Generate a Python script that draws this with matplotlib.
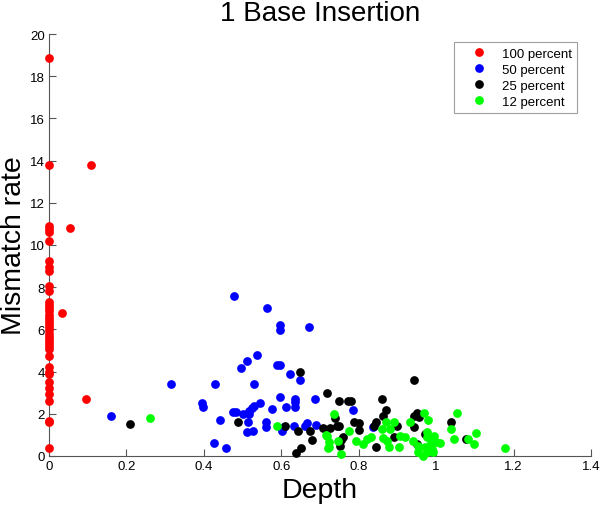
import numpy as np
import matplotlib
matplotlib.use('Agg')
import matplotlib.pyplot as plt

plt.rcParams['font.family'] = ['Liberation Sans', 'DejaVu Sans']

# 100 percent (red)
red_x = [0.0] * 36 + [0.108, 0.053, 0.034, 0.096]
red_y = [18.85, 13.8, 10.9, 10.75, 10.6, 10.2, 9.26, 8.96, 8.78, 8.07, 7.83,
         7.3, 7.15, 7.0, 6.85, 6.7, 6.55, 6.4, 6.25, 6.1, 5.95, 5.8, 5.65, 5.5,
         5.35, 5.2, 5.07, 4.75, 4.2, 4.0, 3.9, 3.5, 3.2, 2.95, 2.6, 1.67] + \
        [13.8, 10.8, 6.8, 2.68]
red_x += [0.0, 0.0]
red_y += [1.6, 0.38]

# 50 percent (blue)
blue_x = [0.16, 0.479, 0.562, 0.597, 0.597, 0.672, 0.538, 0.511, 0.495, 0.588,
          0.597, 0.622, 0.649, 0.315, 0.429, 0.530, 0.597, 0.636, 0.636, 0.687,
          0.545, 0.530, 0.524, 0.394, 0.397, 0.613, 0.636, 0.576, 0.517, 0.517,
          0.474, 0.483, 0.500, 0.442, 0.515, 0.561, 0.561, 0.633, 0.660, 0.666,
          0.689, 0.601, 0.607, 0.511, 0.528, 0.426, 0.456, 0.785, 0.836]
blue_y = [1.9, 7.6, 7.0, 6.2, 5.99, 6.1, 4.79, 4.5, 4.19, 4.31,
          4.31, 3.89, 3.6, 3.4, 3.4, 3.4, 2.81, 2.7, 2.54, 2.7,
          2.5, 2.38, 2.27, 2.5, 2.3, 2.3, 2.3, 2.23, 2.12, 1.99,
          2.1, 2.1, 1.98, 1.7, 1.6, 1.6, 1.39, 1.44, 1.44, 1.56,
          1.48, 1.2, 1.36, 1.12, 1.17, 0.6, 0.38, 2.2, 1.39]

# 25 percent (black)
black_x = [0.21, 0.648, 0.718, 0.749, 0.772, 0.780, 0.738, 0.487, 0.610, 0.644,
           0.674, 0.709, 0.726, 0.748, 0.680, 0.760, 0.752, 0.651, 0.637, 0.944,
           0.861, 0.870, 0.950, 0.944, 0.955, 0.864, 0.789, 0.800, 0.845, 0.840,
           0.743, 0.802, 0.898, 0.943, 1.039, 0.754, 0.845, 0.950, 0.972, 1.077,
           0.892]
black_y = [1.5, 4.0, 2.98, 2.6, 2.6, 2.6, 1.78, 1.6, 1.44, 1.18,
           1.18, 1.33, 1.33, 1.44, 0.77, 0.89, 0.49, 0.38, 0.13, 3.59,
           2.69, 2.2, 2.04, 1.88, 1.83, 1.88, 1.63, 1.55, 1.6, 1.41,
           1.41, 1.25, 1.44, 1.39, 1.63, 0.76, 0.41, 0.57, 1.04, 0.8,
           0.89]

# 12 percent (green)
green_x = [0.261, 0.588, 0.737, 0.715, 0.722, 0.722, 0.746, 0.753, 0.775, 0.969,
           0.979, 1.055, 1.039, 1.045, 1.103, 1.098, 1.083, 1.178, 0.717, 0.720,
           0.793, 0.810, 0.831, 0.821, 0.860, 0.864, 0.874, 0.879, 0.871, 0.890,
           0.881, 0.907, 0.920, 0.903, 0.933, 0.941, 0.954, 0.954, 0.967, 0.976,
           0.976, 0.986, 0.995, 1.000, 1.010, 0.972, 0.976, 0.993, 0.990]
green_y = [1.79, 1.42, 2.0, 1.0, 0.68, 0.41, 0.7, 0.09, 1.17, 2.04,
           1.7, 2.04, 1.28, 0.8, 1.09, 0.57, 0.8, 0.39, 0.96, 0.39,
           0.73, 0.57, 0.89, 0.8, 1.28, 0.84, 0.73, 0.41, 1.6, 1.6,
           1.28, 0.96, 0.89, 0.41, 1.63, 0.73, 0.49, 0.17, 0.01, 0.17,
           0.89, 0.62, 0.96, 0.65, 0.62, 0.41, 1.12, 0.2, 0.33]

fig = plt.figure(figsize=(6.0, 5.06), dpi=100)
ax = fig.add_axes([49 / 600, 49 / 506, 542 / 600, 422 / 506])

ms = 6.3
ax.plot(red_x, red_y, 'o', color=(1, 0, 0), ms=ms, mec='none', label='100 percent', clip_on=False, zorder=3)
ax.plot(blue_x, blue_y, 'o', color=(0, 0, 1), ms=ms, mec='none', label='50 percent', clip_on=False, zorder=3)
ax.plot(black_x, black_y, 'o', color='k', ms=ms, mec='none', label='25 percent', clip_on=False, zorder=3)
ax.plot(green_x, green_y, 'o', color=(0, 1, 0), ms=ms, mec='none', label='12 percent', clip_on=False, zorder=3)

ax.set_xlim(0, 1.4)
ax.set_ylim(0, 20)
xt = [0, 0.2, 0.4, 0.6, 0.8, 1.0, 1.2, 1.4]
ax.set_xticks(xt)
ax.set_xticklabels(['0', '0.2', '0.4', '0.6', '0.8', '1', '1.2', '1.4'])
ax.set_yticks(range(0, 21, 2))

for s in ['top', 'right']:
    ax.spines[s].set_visible(False)
for s in ['left', 'bottom']:
    ax.spines[s].set_color('#555555')
ax.tick_params(direction='in', length=5, color='#555555', labelsize=9.5, pad=3)

ax.set_xlabel('Depth', fontsize=20.5)
ax.xaxis.set_label_coords(0.5, -0.05)
ax.set_ylabel('Mismatch rate', fontsize=20.5)
ax.yaxis.set_label_coords(-0.04, 0.5)
ax.set_title('1 Base Insertion', fontsize=20, pad=10)

leg = ax.legend(loc='upper right', bbox_to_anchor=(0.974, 0.981), numpoints=1,
                fancybox=False, fontsize=9.5, borderaxespad=0, handletextpad=0.2,
                labelspacing=0.3, handlelength=3.0, borderpad=0.4)
leg.get_frame().set_edgecolor('#888888')
leg.get_frame().set_linewidth(0.8)

plt.savefig('out.png', dpi=100)
